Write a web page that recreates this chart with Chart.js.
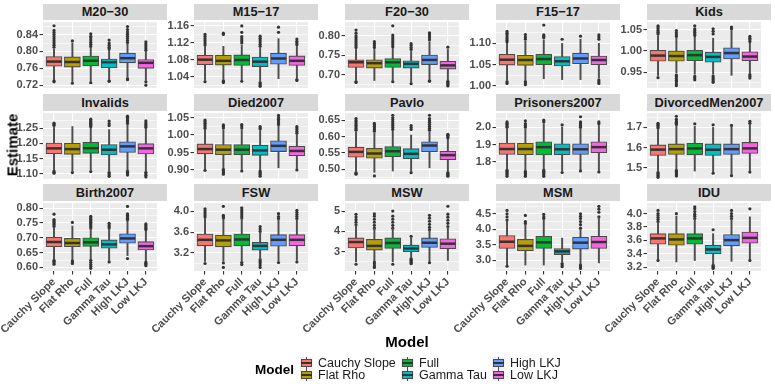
<!DOCTYPE html>
<html><head><meta charset="utf-8">
<script src="https://cdn.jsdelivr.net/npm/chart.js@4.4.1/dist/chart.umd.min.js"></script>
<style>
body{margin:0;width:775px;height:388px;position:relative;background:#fff;overflow:hidden;font-family:"Liberation Sans",Arial,sans-serif}
.strip{position:absolute;background:#D9D9D9;color:#1A1A1A;font-weight:bold;font-size:12.8px;text-align:center;white-space:nowrap}
canvas{position:absolute}
.t{position:absolute;white-space:nowrap}
.key{position:absolute;width:13px;height:12px;background:#F2F2F2}
.key .bx{position:absolute;left:1px;top:2px;width:9px;height:6px;border:1px solid #4a4a4a}
.key .md{position:absolute;left:1px;top:5px;width:11px;height:1.5px;background:#333}
.key .wh{position:absolute;left:6px;width:1px;height:2px;background:#4a4a4a}
</style></head><body>
<script>
const models = ['Cauchy Slope','Flat Rho','Full','Gamma Tau','High LKJ','Low LKJ'];
const colors = ['#F8766D','#B79F00','#00BA38','#00BFC4','#619CFF','#F564E3'];
const panels = ['M20−30','M15−17','F20−30','F15−17','Kids','Invalids','Died2007','Pavlo','Prisoners2007','DivorcedMen2007','Birth2007','FSW','MSW','MSM','IDU'];
const yTicks = [
 ['0.72','0.76','0.80','0.84'], ['1.04','1.08','1.12','1.16'], ['0.70','0.75','0.80'], ['1.00','1.05','1.10'], ['0.95','1.00','1.05'],
 ['1.10','1.15','1.20','1.25'], ['0.90','0.95','1.00','1.05'], ['0.50','0.55','0.60','0.65'], ['1.7','1.8','1.9','2.0'], ['1.5','1.6','1.7'],
 ['0.60','0.65','0.70','0.75','0.80'], ['3.2','3.6','4.0'], ['3','4','5'], ['3.0','3.5','4.0','4.5'], ['3.2','3.4','3.6','3.8','4.0']
];
const yRange = [
 [0.7135,0.8697],[1.0144,1.169],[0.666,0.8355],[0.9955,1.150],[0.913,1.0678],
 [1.0834,1.299],[0.8744,1.0628],[0.4697,0.6726],[1.702,2.081],[1.4463,1.7706],
 [0.588,0.8174],[2.845,4.162],[2.048,5.395],[2.661,4.845],[3.144,4.155]
];
// per panel, per model: [lower whisker, Q1, median, Q3, upper whisker]
const boxStats = [
 [[0.733,0.765,0.776,0.788,0.806],[0.728,0.763,0.775,0.787,0.82],[0.73,0.766,0.778,0.789,0.81],[0.733,0.761,0.7745,0.782,0.803],[0.738,0.773,0.784,0.796,0.818],[0.731,0.760,0.773,0.781,0.80]],
 [[1.033,1.069,1.0807,1.091,1.112],[1.034,1.068,1.078,1.091,1.112],[1.033,1.067,1.080,1.092,1.115],[1.031,1.0645,1.076,1.087,1.108],[1.036,1.070,1.0835,1.096,1.13],[1.037,1.067,1.078,1.0895,1.112]],
 [[0.686,0.7185,0.732,0.7386,0.765],[0.685,0.717,0.7297,0.7386,0.765],[0.686,0.7185,0.732,0.7418,0.768],[0.68,0.717,0.728,0.736,0.760],[0.689,0.726,0.738,0.7507,0.785],[0.686,0.7144,0.724,0.7345,0.765]],
 [[1.014,1.049,1.0617,1.0743,1.10],[1.013,1.0485,1.061,1.072,1.105],[1.017,1.05,1.0632,1.0743,1.108],[1.015,1.047,1.058,1.069,1.100],[1.015,1.052,1.0646,1.077,1.11],[1.018,1.05,1.061,1.0705,1.10]],
 [[0.942,0.9757,0.989,1.0015,1.036],[0.948,0.9757,0.988,1.00,1.03],[0.945,0.977,0.990,1.0015,1.032],[0.945,0.9735,0.986,0.997,1.03],[0.9426,0.981,0.995,1.0075,1.048],[0.948,0.9766,0.9867,0.998,1.018]],
 [[1.113,1.1657,1.1834,1.201,1.255],[1.107,1.1637,1.181,1.20,1.255],[1.112,1.167,1.184,1.203,1.25],[1.107,1.1616,1.179,1.196,1.245],[1.112,1.17,1.19,1.205,1.26],[1.109,1.165,1.1834,1.199,1.248]],
 [[0.903,0.946,0.9598,0.9746,1.015],[0.906,0.9435,0.958,0.9727,1.015],[0.901,0.9435,0.958,0.9727,1.015],[0.901,0.9418,0.956,0.9708,1.012],[0.9063,0.9527,0.969,0.9836,1.025],[0.904,0.9407,0.9544,0.968,1.0]],
 [[0.495,0.5365,0.553,0.5676,0.615],[0.49,0.5335,0.548,0.5638,0.612],[0.494,0.538,0.555,0.5697,0.617],[0.493,0.532,0.547,0.563,0.605],[0.504,0.553,0.5726,0.584,0.615],[0.492,0.5285,0.543,0.555,0.592]],
 [[1.757,1.843,1.874,1.909,1.995],[1.75,1.841,1.874,1.907,1.99],[1.758,1.84,1.885,1.916,2.02],[1.745,1.841,1.8725,1.904,2.0],[1.752,1.843,1.8725,1.904,1.995],[1.747,1.852,1.885,1.916,2.01]],
 [[1.483,1.562,1.5906,1.614,1.69],[1.493,1.567,1.593,1.619,1.71],[1.485,1.565,1.5967,1.6216,1.705],[1.48,1.562,1.59,1.619,1.70],[1.468,1.567,1.593,1.619,1.705],[1.485,1.572,1.5967,1.626,1.715]],
 [[0.628,0.670,0.686,0.702,0.735],[0.626,0.670,0.6825,0.698,0.74],[0.628,0.6707,0.685,0.70,0.73],[0.622,0.665,0.678,0.693,0.73],[0.64,0.682,0.698,0.714,0.757],[0.622,0.659,0.672,0.687,0.723]],
 [[3.03,3.332,3.45,3.5625,3.87],[3.03,3.313,3.439,3.538,3.86],[3.03,3.332,3.456,3.5625,3.86],[3.07,3.25,3.332,3.40,3.6],[3.04,3.325,3.45,3.55,3.85],[3.05,3.332,3.45,3.55,3.85]],
 [[2.5,3.18,3.476,3.68,4.3],[2.55,3.08,3.286,3.605,4.15],[2.5,3.16,3.43,3.68,4.15],[2.7,3.0,3.157,3.32,3.7],[2.55,3.205,3.44,3.68,4.05],[2.57,3.143,3.395,3.633,4.2]],
 [[2.85,3.385,3.603,3.80,4.28],[2.85,3.314,3.469,3.677,4.15],[2.85,3.385,3.583,3.78,4.3],[2.95,3.19,3.292,3.385,3.72],[2.88,3.366,3.572,3.748,4.0],[2.92,3.385,3.593,3.78,4.38]],
 [[3.32,3.542,3.629,3.70,3.87],[3.278,3.528,3.614,3.70,3.96],[3.30,3.542,3.629,3.70,3.92],[3.24,3.40,3.465,3.528,3.7],[3.288,3.518,3.604,3.686,3.92],[3.32,3.557,3.637,3.724,3.95]]
];
const outliers = [
 [[0.810,0.815,0.82,0.825,0.83,0.835,0.84,0.845,0.85,0.861,0.730,0.728],[0.825,0.7245],[0.812,0.817,0.822,0.827,0.832,0.836,0.842,0.726],[0.806,0.81,0.815,0.82,0.827,0.730,0.729],[0.821,0.826,0.831,0.836,0.841,0.846,0.852,0.859,0.735,0.733],[0.803,0.808,0.813,0.818,0.823,0.728,0.720]],
 [[1.115,1.12,1.125,1.13,1.135,1.14,1.029],[1.14,1.143,1.031,1.029,1.027],[1.12,1.125,1.13,1.135,1.145,1.16,1.030],[1.112,1.117,1.122,1.127,1.131,1.136,1.027,1.024,1.021,1.018],[1.145,1.157],[1.116,1.12,1.124,1.129,1.034,1.032]],
 [[0.77,0.775,0.78,0.785,0.79,0.795,0.80,0.807,0.815,0.682,0.680],[0.77,0.775,0.78,0.785],[0.772,0.777,0.782,0.787,0.792,0.797,0.802,0.826,0.682],[0.765,0.770,0.775,0.780,0.677],[0.79,0.795,0.80,0.805,0.808,0.685,0.683],[0.771,0.683,0.680,0.677,0.674,0.671]],
 [[1.103,1.107,1.111,1.115,1.12,1.124,1.128,1.010,1.006],[1.11,1.115,1.1207,1.010,1.007,1.003],[1.113,1.117,1.12,1.143],[1.1097],[1.117],[1.11,1.115,1.12,1.014,1.010,1.006]],
 [[1.04,1.044,1.048,1.052,1.056,1.059,0.937],[1.034,1.038,1.043,1.048,0.943,0.939,0.935,0.931,0.927,0.922,0.918],[1.036,1.04,1.044,1.048,1.052,1.059,0.940,0.936,0.932],[1.04,1.046,1.052,0.941,0.937,0.933,0.929,0.926],[1.052,1.056],[1.022,1.026,1.03,1.034,0.944,0.940,0.936]],
 [[1.258,1.262,1.266,1.109,1.105,1.102],[1.104],[1.254,1.258,1.262,1.266,1.27,1.274,1.279,1.1075],[1.258,1.265,1.273,1.104,1.1,1.096,1.092],[1.265,1.27,1.275,1.28,1.285,1.289,1.109,1.105,1.1,1.096],[1.252,1.257,1.262,1.267,1.274,1.105,1.1,1.095,1.09]],
 [[1.019,1.024,1.029,1.034,1.039,1.043,0.899],[1.02,1.025,1.029,0.902,0.898,0.894,0.891,0.888],[1.02,1.026,1.03,0.897],[1.017,1.02,1.0245,0.897,0.893,0.889,0.886,0.882],[1.03,1.035,1.04,1.045,1.05,1.056],[1.005,1.01,1.015,1.02,1.0245,0.9]],
 [[0.62,0.625,0.63,0.635,0.64,0.645,0.65,0.656,0.489,0.486,0.484],[0.617,0.622,0.627,0.632,0.637,0.641,0.479],[0.622,0.628,0.634,0.64,0.646,0.652,0.658,0.666],[0.622,0.628,0.634,0.489],[0.62,0.626,0.632,0.638,0.644,0.65,0.656,0.666],[0.596,0.6,0.604,0.607,0.489,0.486,0.483,0.48,0.478]],
 [[2.0,2.007,2.015,2.022,2.03,1.752,1.745,1.738,1.731,1.724,1.717],[2.0,2.01,2.02,2.037,1.745,1.738,1.731,1.724,1.717],[2.03,2.04,1.753,1.746,1.739,1.732,1.724,1.717],[2.013,1.739],[2.0,2.01,2.02,2.03,2.06,1.748],[2.02,2.03,1.742]],
 [[1.697,1.703,1.709,1.715,1.72,1.478,1.472,1.466,1.46,1.454],[1.715,1.72,1.725,1.732,1.74,1.755,1.488,1.482,1.476,1.47,1.465,1.46],[1.7175],[1.713,1.4745],[1.71,1.462],[1.72,1.73,1.48]],
 [[0.738,0.743,0.748,0.753,0.758,0.762,0.78,0.624,0.62,0.616,0.611],[0.752,0.622,0.618,0.613],[0.733,0.738,0.743,0.748,0.753,0.758,0.763,0.768,0.773,0.624,0.617,0.61,0.604,0.597],[0.733,0.738,0.743,0.749,0.6185],[0.761,0.766,0.771,0.776,0.781,0.806,0.63],[0.727,0.732,0.737,0.742,0.747,0.618,0.614,0.61,0.606]],
 [[3.894,3.93,3.97,4.01,4.05,2.99],[3.875,3.9,3.926,4.1,3.0,2.914],[3.875,3.91,3.95,3.99,4.03,4.07,3.008,2.97],[3.613,3.66,3.707,3.064,3.03,3.0,2.96,2.914],[3.862,3.9,3.956,3.008],[3.862,3.9,3.94,3.98,4.02,3.02]],
 [[4.32,4.45,4.58,4.71,4.84,2.38],[4.16,4.3,4.45,4.6,4.75,4.87,2.49,2.4,2.3,2.22],[4.16,4.3,4.45,4.6,4.75,5.0,2.38],[3.76,2.65,2.6,2.55,2.5,2.45,2.41],[4.08,4.2,4.35,4.5,4.65,4.79,2.46],[4.24,4.4,4.55,4.7,4.85,5.24]],
 [[4.30,4.4,4.5,4.61,2.817],[4.19,4.25,4.45],[4.35,4.4,4.48],[2.9,2.85,2.8],[4.04,4.15,4.25,4.35,4.42,4.5,2.85,2.8,2.745],[4.40,4.55,4.65,4.74]],
 [[3.878,3.91,3.94,3.97,4.0,4.046,3.302],[3.997],[3.925,3.96,3.99,4.03,4.07,4.10],[3.758,3.23,3.21,3.195,3.183],[3.925,3.96,4.0,4.046],[4.07,3.302]]
];

const FF = '"Liberation Sans", Arial, sans-serif';
const colLeft = [43,194,345,496,647];
const plotW = 124;
const stripTop = [4,94,184];
const stripH = [16,17,17];
const plotH = 70;
const AXW = 50, PADV = 8, XAXH = 62;

const bgPlugin = {id:'panelbg', beforeDraw(chart){
  const {ctx, chartArea:a} = chart; ctx.save(); ctx.fillStyle='#EBEBEB';
  ctx.fillRect(a.left, a.top, a.right-a.left, a.bottom-a.top); ctx.restore();
}};

function addText(txt, css){ const d=document.createElement('div'); d.className='t'; d.textContent=txt; Object.assign(d.style, css); document.body.appendChild(d); return d; }

panels.forEach((name,p)=>{
  const r = Math.floor(p/5), c = p%5;
  const left = colLeft[c];
  const sTop = stripTop[r], top = sTop + stripH[r];
  const s = document.createElement('div'); s.className='strip'; s.textContent = name;
  Object.assign(s.style,{left:left+'px', top:sTop+'px', width:plotW+'px', height:stripH[r]+'px', lineHeight:stripH[r]+'px'});
  document.body.appendChild(s);
  const isBottom = r===2;
  const cv = document.createElement('canvas');
  const W = AXW + plotW, H = PADV + plotH + (isBottom ? XAXH : PADV);
  cv.width = W; cv.height = H;
  cv.style.left = (left-AXW)+'px'; cv.style.top = (top-PADV)+'px';
  cv.style.width = W+'px'; cv.style.height = H+'px';
  document.body.appendChild(cv);

  const tv = yTicks[p].map(Number);
  const isMajor = v => tv.some(t=>Math.abs(t-v)<1e-7);
  const step = tv[1]-tv[0];
  const all = [];
  for (let k=-4; k<=2*tv.length+4; k++){ const v=+(tv[0]+k*step/2).toFixed(6); if (v>=yRange[p][0] && v<=yRange[p][1]) all.push(v); }
  const st = boxStats[p];
  const outPts = [];
  outliers[p].forEach((arr,i)=>arr.forEach(v=>outPts.push({x:i,y:v})));

  new Chart(cv, {
    type:'bar',
    data:{datasets:[
      {type:'scatter', data: st.map((s,i)=>({x:i,y:s[2]})), pointStyle:'line', pointRadius:7.6, pointHoverRadius:7.6, pointBorderWidth:2.5, pointBorderColor:'#333', order:0},
      {type:'bar', data: st.map((s,i)=>({x:i,y:[s[1],s[3]]})), backgroundColor: colors, borderColor:'#4a4a4a', borderWidth:1.1, borderSkipped:false, barThickness:16, grouped:false, order:1},
      {type:'bar', data: st.map((s,i)=>({x:i,y:[s[0],s[4]]})), backgroundColor:'#4d4d4d', borderWidth:0, barThickness:1.3, grouped:false, order:2},
      {type:'scatter', data: outPts, pointRadius:1.6, pointHoverRadius:1.6, backgroundColor:'#333', borderWidth:0, order:3}
    ]},
    options:{
      responsive:false, animation:false, devicePixelRatio:1,
      layout:{padding:{top:PADV, bottom:isBottom?0:PADV, left:0, right:0}},
      plugins:{legend:{display:false}, tooltip:{enabled:false}},
      events:[],
      scales:{
        x:{type:'linear', min:-0.6, max:5.6, offset:false,
          afterBuildTicks:sc=>{sc.ticks = models.map((m,i)=>({value:i}));},
          afterFit:sc=>{sc.height = isBottom?XAXH:0; sc.paddingLeft=0; sc.paddingRight=0;},
          grid:{color:'#ffffff', lineWidth:1.1, drawTicks:isBottom, tickLength:3.5, tickColor:'#333', offset:false},
          border:{display:false},
          ticks:{display:isBottom, autoSkip:false, maxRotation:45, minRotation:45, padding:1, color:'#4D4D4D',
                 font:{size:11, weight:'bold', family:FF}, callback:v=>models[Math.round(v)]}
        },
        y:{type:'linear', min:yRange[p][0], max:yRange[p][1],
          afterBuildTicks:sc=>{sc.ticks = all.map(v=>({value:v}));},
          afterFit:sc=>{sc.width=AXW; sc.paddingTop=0; sc.paddingBottom=0;},
          grid:{color:'#ffffff', lineWidth:ctx=>(ctx.tick && isMajor(ctx.tick.value))?1.1:0.55, tickLength:3.5,
                tickColor:ctx=>(ctx.tick && isMajor(ctx.tick.value))?'#333':'rgba(0,0,0,0)'},
          border:{display:false},
          ticks:{autoSkip:false, padding:1.5, color:'#4D4D4D', font:{size:11, weight:'bold', family:FF},
                 callback:v=>{const i=tv.findIndex(t=>Math.abs(t-v)<1e-7); return i>=0?yTicks[p][i]:'';}}
        }
      }
    },
    plugins:[bgPlugin]
  });
});

// axis titles
const est = addText('Estimate',{left:'12px', top:'145px', fontWeight:'bold', fontSize:'15px', color:'#000', transform:'translate(-50%,-50%) rotate(-90deg)'});
addText('Model',{left:'407px', top:'341px', fontWeight:'bold', fontSize:'15px', color:'#000', transform:'translate(-50%,-50%)'});
// legend
addText('Model',{left:'255px', top:'369px', fontWeight:'bold', fontSize:'13.5px', color:'#000', transform:'translateY(-50%)'});
const keyX = [301,402,493], rowY = [363,375];
models.forEach((m,i)=>{
  const col = Math.floor(i/2), row = i%2;
  const k = document.createElement('div'); k.className='key';
  k.style.left = (keyX[col]-1)+'px'; k.style.top = (rowY[row]-6)+'px';
  k.innerHTML = '<div class="wh" style="top:0px"></div><div class="wh" style="top:10px"></div><div class="bx" style="background:'+colors[i]+'"></div><div class="md"></div>';
  document.body.appendChild(k);
  addText(m,{left:(keyX[col]+17)+'px', top:rowY[row]+'px', fontSize:'12.5px', color:'#1a1a1a', transform:'translateY(-50%)'});
});
</script>
</body></html>
